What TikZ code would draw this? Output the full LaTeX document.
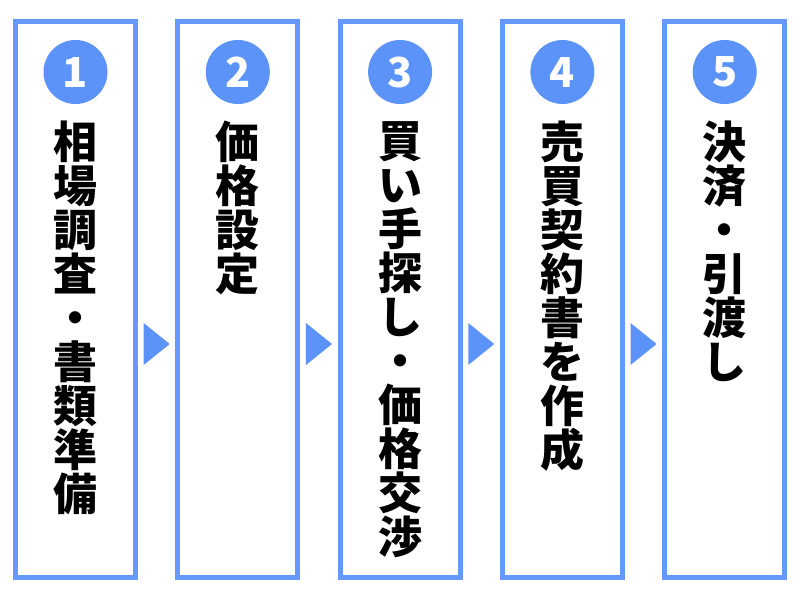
\documentclass[tikz,border=0pt]{standalone}
\usepackage{fontspec}
\usepackage{tikz}
\usetikzlibrary{calc}
\newfontfamily\jpfont{Noto Sans CJK JP}
\definecolor{boxblue}{HTML}{6699FF}
\definecolor{dotblue}{HTML}{5B93F8}

\begin{document}
\begin{tikzpicture}[x=0.75pt,y=-0.75pt,
stepbox/.style={draw=boxblue,line width=3.75pt,minimum width=90pt,minimum height=417pt,inner sep=0pt},
numdot/.style={circle,fill=dotblue,minimum size=48pt,inner sep=0pt,outer sep=0pt,text=white,font={\jpfont\bfseries\fontsize{31}{31}\selectfont}},
steplabel/.style={align=center,inner sep=0pt,font={\jpfont\bfseries\fontsize{33}{33}\selectfont}}
]
\useasboundingbox (0,0) rectangle (800,600);

% The steps
\foreach \i/\txt in {1/{相\\場\\調\\査\\・\\書\\類\\準\\備},
                     2/{価\\格\\設\\定},
                     3/{買\\い\\手\\探\\し\\・\\価\\格\\交\\渉},
                     4/{売\\買\\契\\約\\書\\を\\作\\成},
                     5/{決\\済\\・\\引\\渡\\し}}{
  \node[stepbox] (step\i) at ({75.5+162.3*(\i-1)},299.5) {};
  \node[numdot] (num\i) at ($(step\i.north)+(0,53)$) {\i};
  \node[steplabel,anchor=north] (lbl\i) at ($(step\i.north)+(0,102)$) {\txt};
}

% The arrows
\foreach \i [evaluate=\i as \j using int(\i+1)] in {1,...,4}
  \fill[dotblue] ($(step\i.east)!0.5!(step\j.west)+(0,44.5)$) coordinate (gap\i)
    ++(-13,-21) -- ++(26,21) -- ++(-26,21) -- cycle;
\end{tikzpicture}
\end{document}
